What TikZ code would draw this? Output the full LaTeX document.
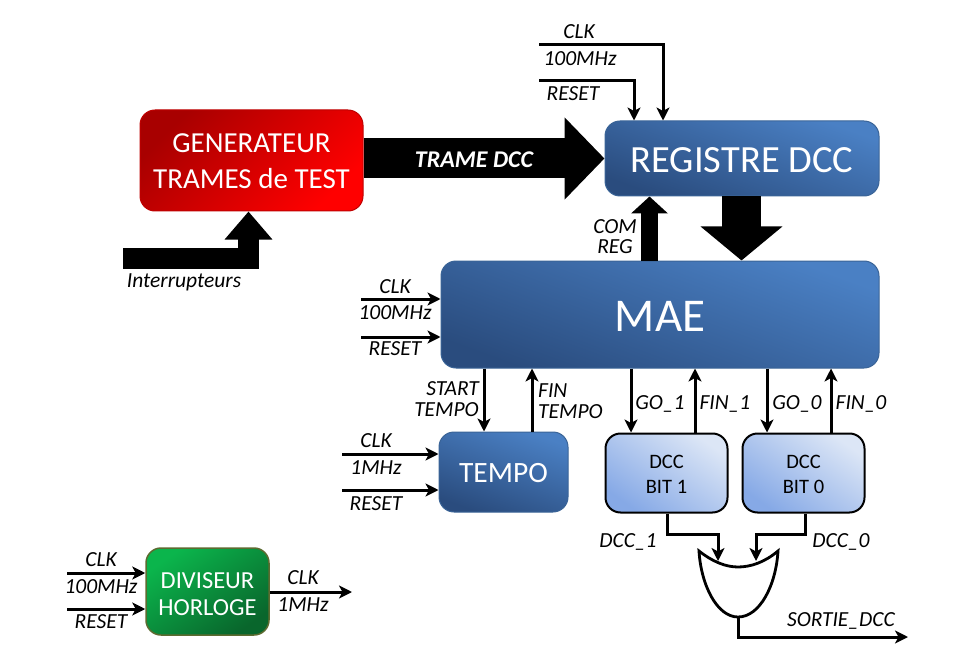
\documentclass[tikz,border=0pt]{standalone}
\usepackage{fontspec}
\setmainfont{Carlito}
\usetikzlibrary{arrows.meta}
\definecolor{blueHi}{HTML}{4A80C4}
\definecolor{blueLo}{HTML}{2A4C7E}
\definecolor{blueEdge}{HTML}{3A6497}
\definecolor{bitHi}{HTML}{DCE6F6}
\definecolor{bitLo}{HTML}{86A9E6}
\definecolor{redLo}{HTML}{A80000}
\definecolor{greenHi}{HTML}{0BB54C}
\definecolor{greenLo}{HTML}{09662C}
\definecolor{greenEdge}{HTML}{5C6B30}
\newcommand{\usc}{\char95 }
\newcommand{\dn}[2]{\raisebox{-#1}[\height][\depth]{#2}}
\tikzset{
    block/.style={rounded corners=15pt, inner sep=0pt, align=center, text=white, line width=1pt},
    bluebox/.style={block, draw=blueEdge, top color=blueHi, bottom color=blueLo, shading angle=-20},
    bitbox/.style={block, draw=black, line width=2pt, text=black, top color=bitHi, bottom color=bitLo, shading angle=-35, font=\fontsize{20.5}{25}\selectfont},
    sig/.style={line width=3pt, -{Stealth[length=13pt,width=13pt,inset=3.5pt]}},
    wire/.style={line width=2.8pt},
    lbl/.style={font=\fontsize{21.5}{21}\selectfont\itshape, inner sep=0pt, align=center, yshift=-1pt}
}
\begin{document}
\begin{tikzpicture}[x=1pt,y=-1pt]
    \useasboundingbox (0,0) rectangle (977,663);
    % Blocks
    \node[bluebox, minimum width=274pt, minimum height=75pt, font=\fontsize{38.5}{40}\selectfont] (Registre) at (742,158.5) {\dn{2pt}{REGISTRE DCC}};
    \node[bluebox, minimum width=438pt, minimum height=107pt, font=\fontsize{47}{50}\selectfont] (Mae) at (660,314.5) {\dn{2pt}{MAE}};
    \node[bluebox, minimum width=129pt, minimum height=80pt, font=\fontsize{29.5}{30}\selectfont] (Tempo) at (503.5,472) {\dn{1pt}{TEMPO}};
    \node[bitbox, minimum width=122pt, minimum height=79pt] (Bit-1) at (666.5,473) {\dn{1pt}{DCC}\\\dn{1pt}{BIT 1}};
    \node[bitbox, minimum width=122pt, minimum height=79pt] (Bit-0) at (803.5,473) {\dn{1pt}{DCC}\\\dn{1pt}{BIT 0}};
    \node[block, draw=red!75!black, top color=red, bottom color=redLo, shading angle=-135, minimum width=223pt, minimum height=101pt, font=\fontsize{29}{36}\selectfont] (Generateur) at (251.5,160.5) {\dn{1pt}{GENERATEUR}\\\dn{1pt}{TRAMES de TEST}};
    \node[block, draw=greenEdge, line width=1.5pt, top color=greenHi, bottom color=greenLo, shading angle=35, minimum width=123pt, minimum height=87pt, font=\fontsize{24.5}{27}\selectfont] (Diviseur) at (207.5,591.5) {\dn{2.5pt}{DIVISEUR}\\\dn{2.5pt}{HORLOGE}};
    % Bus arrows
    \coordinate (Inter) at (123,258.5);
    \draw[line width=40pt, -{Triangle[length=40pt,width=80pt]}] (Registre.west -| Generateur.east) -- (Registre.west);
    \draw[line width=21pt, -{Triangle[length=28pt,width=46pt]}] (Inter) -| (248.5,0 |- Generateur.south);
    \draw[line width=17pt, -{Triangle[length=17pt,width=36pt]}] (649.5,0 |- Mae.north) -- (649.5,0 |- Registre.south);
    \draw[line width=39pt, -{Triangle[length=34pt,width=80pt]}] (741.5,0 |- Registre.south) -- (741.5,0 |- Mae.north);
    % Top inputs
    \coordinate (ClkTop) at (539,45);
    \coordinate (RstTop) at (539,81);
    \draw[sig] (ClkTop) -| (663,0 |- Registre.north);
    \draw[sig] (RstTop) -| (634,0 |- Registre.north);
    % Left inputs
    \foreach \block/\xs/\yc/\yr in {Mae/361/299/337, Tempo/342/454/490, Diviseur/67/573/609} {
        \coordinate (\block-clk) at (\xs,\yc);
        \coordinate (\block-rst) at (\xs,\yr);
        \draw[sig] (\block-clk) -- (\block-clk -| \block.west);
        \draw[sig] (\block-rst) -- (\block-rst -| \block.west);
    }
    \coordinate (ClkOut) at (352,592);
    \draw[sig] (ClkOut -| Diviseur.east) -- (ClkOut);
    % Down and up arrows
    \foreach \xa/\block in {484/Tempo, 631/Bit-1, 767/Bit-0} {
        \draw[sig] (\xa,0 |- Mae.south) -- (\xa,0 |- \block.north);
    }
    \foreach \xa/\block in {532/Tempo, 695/Bit-1, 831/Bit-0} {
        \draw[sig] (\xa,0 |- \block.north) -- (\xa,0 |- Mae.south);
    }
    % OR gate
    \draw[wire, fill=white, line join=miter] (699,551) .. controls (713,562) and (726,567) .. (738,567)
        .. controls (751,567) and (765,562) .. (778,551)
        .. controls (776,585) and (760,617) .. (738,617)
        .. controls (717,617) and (701,585) .. (699,551) -- cycle;
    \coordinate (Or-a) at (718,561);
    \coordinate (Or-b) at (756,561);
    \coordinate (Or-out) at (738,617);
    \coordinate (Sortie) at (908,637);
    \draw[sig] (667,0 |- Bit-1.south) |- (718,534) -- (Or-a);
    \draw[sig] (805,0 |- Bit-0.south) |- (756,534) -- (Or-b);
    \draw[sig] (Or-out) |- (Sortie);
    % Labels
    \foreach \txt/\xa/\ya [count=\i] in {
        CLK/579/31, 100MHz/580/58, RESET/573/93,
        COM/615/226, REG/615/246,
        CLK/395/286, 100MHz/395/312, RESET/395/348,
        CLK/376/440, 1MHz/376/467, RESET/376/503,
        CLK/101/559, 100MHz/101/586, RESET/101/621,
        CLK/303/577, 1MHz/303/604,
        GO\usc 1/660/403, FIN\usc 1/725/403, GO\usc 0/797/403, FIN\usc 0/861/403,
        DCC\usc 1/628/541, DCC\usc 0/841/541, SORTIE\usc DCC/841/620,
        Interrupteurs/184/281} {
        \node[lbl] (Label-\i) at (\xa,\ya) {\txt};
    }
    \node[lbl, align=right, anchor=east] (StartLabel) at (479,398) {START\\TEMPO};
    \node[lbl, align=left, anchor=west] (FinLabel) at (538,400) {FIN\\TEMPO};
    \node[lbl, text=white, font=\fontsize{24}{26}\selectfont\bfseries\itshape] (TrameLabel) at (474,159) {TRAME DCC};
\end{tikzpicture}
\end{document}
